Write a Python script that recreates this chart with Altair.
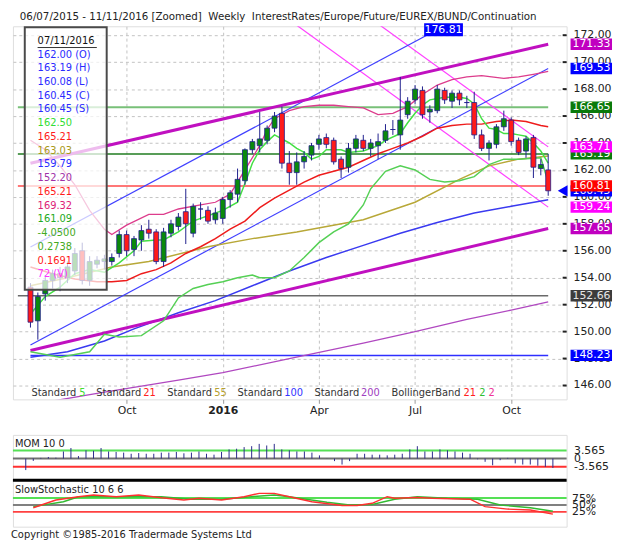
import altair as alt
import pandas as pd

# ---------------- data ----------------
FIRST_WEEK = pd.Timestamp("2015-07-06")

opens = [153.3, 150.8, 152.8, 153.8, 154.3, 154.0, 154.5, 156.0, 153.8, 155.0,
         155.2, 155.2, 155.8, 157.2, 156.1, 156.8, 157.6, 157.4, 155.2, 157.3,
         157.8, 158.9, 157.3, 159.1, 159.0, 158.3, 158.4, 159.8, 160.2, 161.2,
         163.5, 163.8, 164.2, 165.1, 166.2, 162.5, 161.8, 162.6, 163.1, 163.9,
         164.4, 164.2, 162.8, 162.2, 163.6, 164.2, 163.6, 163.8, 164.2, 165.0,
         164.6, 166.1, 167.2, 167.9, 166.3, 166.4, 167.9, 167.1, 167.7, 167.0,
         167.0, 164.6, 163.6, 163.9, 165.2, 165.7, 164.2, 163.4, 164.4, 162.1,
         162.00]
highs = [153.6, 152.9, 154.2, 154.6, 154.8, 155.2, 156.2, 156.6, 155.6, 155.6,
         155.7, 155.8, 157.5, 157.5, 157.1, 157.9, 158.3, 157.6, 157.7, 158.3,
         158.8, 160.6, 159.5, 159.6, 159.3, 159.2, 160.0, 160.5, 162.1, 163.6,
         164.3, 166.3, 165.3, 166.3, 166.7, 163.4, 163.3, 163.4, 164.0, 164.6,
         164.7, 164.4, 163.0, 164.0, 164.6, 164.6, 164.3, 164.7, 165.4, 165.7,
         168.9, 167.4, 168.3, 168.2, 166.8, 168.3, 168.1, 167.9, 167.9, 167.5,
         167.8, 165.0, 164.2, 165.4, 166.4, 165.9, 164.4, 164.5, 164.6, 162.8,
         163.19]
lows = [150.3, 149.4, 152.3, 153.2, 153.0, 153.6, 154.2, 153.5, 153.4, 154.7,
        154.6, 154.9, 155.5, 155.6, 155.6, 156.0, 156.9, 155.0, 154.8, 157.0,
        157.5, 156.5, 157.0, 158.3, 158.0, 158.0, 158.0, 159.2, 159.6, 160.9,
        163.2, 163.3, 163.9, 164.8, 162.1, 160.9, 160.9, 162.1, 162.7, 163.5,
        163.6, 162.4, 161.4, 161.8, 163.3, 163.4, 163.0, 162.8, 164.0, 164.6,
        163.5, 165.8, 166.9, 165.8, 165.5, 166.2, 166.9, 166.6, 166.8, 166.6,
        164.3, 163.4, 162.7, 163.6, 164.9, 163.8, 163.1, 162.9, 161.4, 161.6,
        160.08]
closes = [150.7, 152.6, 153.8, 154.3, 154.0, 154.8, 155.8, 153.8, 155.2, 155.3,
          155.4, 155.5, 157.2, 156.0, 156.9, 157.5, 157.3, 155.2, 157.4, 158.0,
          158.5, 158.0, 159.3, 159.1, 158.2, 158.8, 159.8, 160.3, 161.3, 163.5,
          164.1, 164.3, 165.1, 166.0, 162.5, 161.8, 162.6, 163.0, 163.8, 164.3,
          163.9, 162.6, 162.1, 163.6, 164.3, 163.6, 164.0, 164.1, 164.9, 165.0,
          165.7, 167.1, 168.0, 166.1, 166.5, 168.0, 167.2, 167.7, 167.2, 167.0,
          164.6, 163.6, 164.0, 165.2, 165.8, 164.1, 163.3, 164.3, 162.2, 162.4,
          160.45]

ma5_wk = [0, 2, 4, 6, 8, 10, 12, 14, 15, 17, 18, 20, 21, 22, 23, 24, 26, 28, 29, 30,
          31, 32, 33, 34, 35, 36, 37, 38, 39, 40, 42, 43, 45, 47, 48, 50, 51, 52, 53, 54,
          56, 58, 59, 60, 61, 62, 63, 64, 65, 66, 67, 68, 69, 70]
ma5 = [151.3, 152.6, 153.3, 154.3, 154.6, 154.4, 155.1, 156.0, 156.7, 156.8,
       156.8, 157.4, 157.8, 158.2, 158.4, 158.6, 159.0, 159.6, 161.0, 162.5,
       163.5, 164.1, 164.6, 164.3, 164.0, 163.6, 163.3, 162.8, 163.0, 163.5,
       163.5, 163.3, 163.4, 163.8, 164.2, 164.7, 165.5, 166.2, 166.8, 167.2,
       167.4, 167.4, 167.3, 166.9, 165.8, 165.1, 165.0, 164.7, 164.7, 164.6,
       164.5, 164.0, 163.4, 162.5]

ma21_wk = [0, 3, 6, 9, 11, 13, 15, 17, 19, 21, 23, 25, 27, 29, 31, 33, 35, 37, 39, 41,
           43, 45, 47, 49, 51, 53, 55, 57, 59, 61, 63, 65, 67, 69, 70]
ma21 = [154.8, 154.3, 153.9, 153.7, 153.7, 153.8, 154.3, 154.6, 155.1, 155.8,
        156.3, 156.9, 157.6, 158.2, 159.2, 159.9, 160.5, 161.1, 161.6, 161.9,
        162.2, 162.7, 163.2, 163.6, 164.0, 164.5, 165.1, 165.3, 165.4, 165.4,
        165.6, 165.7, 165.6, 165.3, 165.21]

ma55_wk = [0, 5, 11, 16, 24, 30, 36, 45, 52, 58, 62, 66, 70]
ma55 = [153.4, 154.0, 154.8, 155.2, 156.3, 156.9, 157.4, 158.3, 159.6, 161.3, 162.3, 162.8, 163.03]

ma100_wk = [0, 5, 10, 14, 20, 25, 30, 35, 40, 45, 50, 55, 60, 65, 70]
ma100 = [148.1, 148.5, 149.3, 150.2, 151.4, 152.3, 153.4, 154.5, 155.5, 156.4, 157.3, 158.1, 158.8, 159.3, 159.79]

ma200_wk = [0, 3, 10, 20, 26, 35, 45, 52, 59, 65, 70]
ma200 = [144.5, 144.85, 145.5, 146.4, 146.95, 148.0, 149.15, 150.0, 150.9, 151.6, 152.2]

bbu_wk = [0, 2, 4, 6, 8, 10, 11, 13, 16, 18, 20, 23, 25, 27, 29, 31, 32, 33, 35, 37,
          39, 41, 43, 45, 47, 49, 51, 53, 55, 57, 59, 61, 64, 66, 68, 70]
bbu = [164.2, 163.5, 162.3, 160.9, 159.0, 157.6, 157.2, 157.9, 158.7, 158.7,
       159.1, 159.4, 159.6, 160.2, 162.0, 163.8, 165.0, 165.8, 166.4, 166.7,
       166.8, 166.8, 166.7, 166.6, 166.1, 166.2, 166.7, 167.6, 168.3, 168.7,
       168.9, 169.0, 168.8, 168.9, 169.1, 169.32]

bbl_wk = [0, 4, 8, 10, 12, 15, 18, 20, 22, 24, 26, 28, 30, 31, 33, 35, 37, 39, 41, 43,
          45, 46, 48, 50, 52, 54, 56, 58, 60, 62, 64, 66, 69, 70]
bbl = [148.5, 148.1, 148.5, 149.8, 149.6, 149.7, 150.8, 152.5, 153.2, 153.5,
       153.7, 154.0, 154.2, 154.0, 154.0, 154.5, 155.5, 156.6, 157.4, 158.0,
       159.4, 160.6, 161.9, 162.3, 162.0, 161.3, 161.1, 161.2, 161.5, 162.4,
       162.8, 162.8, 162.9, 161.09]

mom = [-5.0, -1.0, 0.3, 0.7, 0.4, 3.1, 4.6, 1.1, 3.6, 3.4,
       4.6, 3.1, 2.9, 2.6, 2.1, 2.4, 2.1, 2.1, 2.6, 2.6,
       2.9, 2.3, 2.6, 3.1, 2.1, 1.7, 2.9, 4.0, 4.3, 5.0,
       5.4, 6.4, 5.7, 6.4, 4.0, 3.6, 3.1, 3.1, 2.6, 1.4,
       0.05, -1.1, -2.6, -1.1, 2.1, 2.1, 1.7, 1.7, 1.4, 1.7,
       2.1, 4.0, 5.4, 3.1, 3.1, 4.0, 3.6, 3.1, 2.6, 2.1,
       -0.3, -1.4, -2.9, -0.7, 0.3, -2.1, -2.6, -2.6, -3.1, -3.6,
       -4.05]

stoch_k_wk = [1, 4, 7, 9, 12, 15, 18, 21, 23, 26, 29, 31, 33, 35, 38, 42, 44, 46, 48, 49,
              52, 54, 59, 61, 64, 67, 70]
stoch_k = [40, 68, 80, 86, 80, 86, 76, 68, 74, 68, 80, 92, 92, 80, 62, 48, 48, 56, 80, 74,
           77, 74, 71, 44, 35, 32, 16.91]
stoch_d_wk = [1, 5, 7, 12, 18, 22, 26, 30, 33, 35, 40, 43, 46, 49, 52, 56, 60, 63, 67, 70]
stoch_d = [44, 62, 80, 80, 80, 71, 71, 80, 86, 80, 60, 50, 52, 71, 80, 74, 71, 50, 40, 27.38]

# trend lines: (start week, start value, end week, end value)
trend_magenta = [(0, 162.5, 70, 171.33), (0, 148.6, 70, 157.65)]
trend_blue = [(0, 149.0, 70, 169.53), (0, 156.28, 70, 176.81)]
trend_pink = [(34, 173.53, 70, 159.24), (46, 173.24, 70, 163.71)]

level_values = [166.65, 163.19, 160.81, 152.66, 148.23]
level_colors = ["#78c078", "#217d21", "#ff4a4a", "#6a6a6a", "#2f2fff"]
level_widths = [2.0, 1.5, 1.5, 1.5, 1.5]
level_from_first_week = [False, False, False, False, True]

price_ticks = list(range(146, 173, 2))

tag_values_under = [163.19, 160.45]
tag_fill_under = ["#0a7a0a", "#0000ff"]
tag_values = [171.33, 169.53, 166.65, 163.71, 160.81, 159.24, 157.65, 152.66, 148.23]
tag_fill = ["#c000c0", "#0000ff", "#0a7a0a", "#ff00ff", "#ff0000", "#ff00ff", "#c000c0", "#3c3c3c", "#0000ff"]
tag_text_color = ["white"] * 7 + ["#e6e6e6", "white"]

info_text = ["07/11/2016", "162.00 (O)", "163.19 (H)", "160.08 (L)", "160.45 (C)", "160.45 (S)",
             "162.50", "165.21", "163.03", "159.79", "152.20", "165.21", "169.32", "161.09",
             "-4.0500", "0.2738", "0.1691", "72 (V)"]
info_color = ["#111111", "#2b2bff", "#2b2bff", "#2b2bff", "#2b2bff", "#2b2bff",
              "#33dd33", "#ff1a1a", "#a89a1a", "#2b2bff", "#a030a8", "#ff1a1a", "#dd2277", "#22aa22",
              "#44aa22", "#44aa22", "#ff1a1a", "#ff33ff"]

legend_text = ["Standard", "5", "Standard", "21", "Standard", "55", "Standard", "100",
               "Standard", "200", "BollingerBand", "21", "2", "2"]
legend_color = ["#333333", "#44dd33", "#333333", "#ff2020", "#333333", "#b5a030", "#333333", "#3333ff",
                "#333333", "#a040c0", "#333333", "#ff2020", "#30c030", "#ee3399"]
legend_px = [14, 63.4, 80.9, 129.4, 154, 202.6, 226.6, 274.8, 305.9, 354, 385.5, 459.8, 475.9, 485.5]

TITLE = "06/07/2015 - 11/11/2016 [Zoomed]\u00a0 Weekly\u00a0 InterestRates/Europe/Future/EUREX/BUND/Continuation"
COPYRIGHT = "Copyright \u00a91985-2016 Tradermade Systems Ltd"

# ---------------- layout ----------------
W = 561
H_MAIN = 378
H_MOM = 46
H_STO = 47
PX_PER_DAY = 7.63 / 7.0
D0 = pd.Timestamp("2015-06-24 02:00")
D1 = D0 + pd.Timedelta(days=W / PX_PER_DAY)
YTOP, YBOT = 172.66, 144.97
FONT = "DejaVu Sans"


def ms(ts):
    return int(pd.Timestamp(ts).timestamp() * 1000)


def iso(ts):
    return pd.Timestamp(ts).strftime("%Y-%m-%dT%H:%M:%SZ")


def wk_date(i):
    return iso(FIRST_WEEK + pd.Timedelta(days=7 * i))


def px_date(px):
    return iso(D0 + pd.Timedelta(days=px / PX_PER_DAY))


def py_price(py):
    return YTOP - py * (YTOP - YBOT) / H_MAIN


xsc = alt.Scale(type="utc", domain=[ms(D0), ms(D1)], nice=False)
ysc = alt.Scale(domain=[YBOT, YTOP], nice=False, zero=False)

xaxis = alt.Axis(
    values=[ms("2015-10-05"), ms("2016-01-04"), ms("2016-04-04"), ms("2016-07-04"), ms("2016-10-03")],
    labelExpr="utcFormat(datum.value, '%m') == '01' ? utcFormat(datum.value, '%Y') : utcFormat(datum.value, '%b')",
    labelFontWeight={"condition": {"test": "utcFormat(datum.value, '%m') == '01'", "value": "bold"}, "value": "normal"},
    grid=True, gridColor="#c2c2c2", gridDash=[3, 3], gridWidth=1,
    ticks=True, tickColor="#999999", tickSize=4, domain=False,
    labelFontSize=11, labelColor="#222222", labelPadding=1, title=None,
)
yaxis = alt.Axis(
    orient="right", values=price_ticks, labels=False,
    grid=True, gridColor="#c2c2c2", gridDash=[3, 3], gridWidth=1,
    ticks=False, domain=False, title=None,
)


def X(field="date:T"):
    return alt.X(field, scale=xsc, axis=xaxis, title=None)


def Y(field):
    return alt.Y(field, scale=ysc, axis=yaxis, title=None)


one = pd.DataFrame({"a": [0]})

# level lines
lv = pd.DataFrame({
    "x0": [wk_date(0) if f else iso(D0) for f in level_from_first_week],
    "x1": [wk_date(70)] * len(level_values),
    "level": level_values,
    "col": level_colors,
    "w": level_widths,
})
levels = alt.Chart(lv).mark_rule().encode(
    x=X("x0:T"), x2="x1:T", y=Y("level:Q"),
    color=alt.Color("col:N", scale=None), strokeWidth=alt.StrokeWidth("w:Q", scale=None),
)


def trend_layer(lines, color, width):
    rows = []
    for k, (i0, v0, i1, v1) in enumerate(lines):
        rows.append({"id": k, "date": wk_date(i0), "v": v0})
        rows.append({"id": k, "date": wk_date(i1), "v": v1})
    return alt.Chart(pd.DataFrame(rows)).mark_line(color=color, strokeWidth=width, clip=True).encode(
        x=X(), y=Y("v:Q"), detail="id:N")


def line_layer(idx, vals, color, width):
    df = pd.DataFrame({"date": [wk_date(i) for i in idx], "v": vals})
    return alt.Chart(df).mark_line(color=color, strokeWidth=width, clip=True).encode(x=X(), y=Y("v:Q"))


n = len(opens)
cdf = pd.DataFrame({"date": [wk_date(i) for i in range(n)], "open": opens, "high": highs,
                    "low": lows, "close": closes})
wicks = alt.Chart(cdf).mark_rule(color="#1e1e8c", strokeWidth=1).encode(x=X(), y=Y("low:Q"), y2="high:Q")
bodies = alt.Chart(cdf).mark_bar(size=5, stroke="#1e1e8c", strokeWidth=0.8).encode(
    x=X(), y=Y("open:Q"), y2="close:Q",
    fill=alt.condition("datum.close >= datum.open", alt.value("#0b8a0b"), alt.value("#ff1a1a")),
)

# info box
box = alt.Chart(one).mark_rect(fill="white", fillOpacity=0.72, stroke="#4a4a4a", strokeWidth=2).encode(
    x=alt.value(12), x2=alt.value(95), y=alt.value(1), y2=alt.value(267))
info_df = pd.DataFrame({"t": info_text, "col": info_color,
                        "y": [py_price(14.7 + 13.92 * k) for k in range(len(info_text))]})
info = alt.Chart(info_df).mark_text(align="left", baseline="middle", fontSize=10).encode(
    x=alt.value(25), y=Y("y:Q"), text="t:N", color=alt.Color("col:N", scale=None))
underline = alt.Chart(one).mark_rule(color="#333333", strokeWidth=1).encode(
    x=alt.value(25), x2=alt.value(85), y=alt.value(21.5))

# bottom legend
leg_df = pd.DataFrame({"t": legend_text, "col": legend_color,
                       "date": [px_date(p) for p in legend_px],
                       "y": [py_price(H_MAIN - 6.4)] * len(legend_text)})
legend = alt.Chart(leg_df).mark_text(align="left", baseline="middle", fontSize=10).encode(
    x=X(), y=Y("y:Q"), text="t:N", color=alt.Color("col:N", scale=None))

# right price scale: inner ticks and labels (drawn below the value tags)
tick_df = pd.DataFrame({"v": price_ticks, "t": [f"{v:.2f}" for v in price_ticks]})
inner_ticks = alt.Chart(tick_df).mark_rule(color="#222222", strokeWidth=2).encode(
    x=alt.value(W - 4), x2=alt.value(W), y=Y("v:Q"))
tick_labels = alt.Chart(tick_df).mark_text(align="left", baseline="middle", fontSize=11, color="#222222").encode(
    x=alt.value(W + 7), y=Y("v:Q"), text="t:N")

arrow = alt.Chart(pd.DataFrame({"v": [closes[-1]]})).mark_point(
    shape="triangle-left", filled=True, size=130, color="#0000ff", opacity=1).encode(
    x=alt.value(W - 4), y=Y("v:Q"))


def tag_layers(values, fills, tcolors):
    df = pd.DataFrame({"v": values, "t": [f"{v:.2f}" for v in values], "fill": fills, "tc": tcolors})
    df["lo"] = df["v"] - 0.42
    df["hi"] = df["v"] + 0.42
    rect = alt.Chart(df).mark_rect().encode(
        x=alt.value(W + 4), x2=alt.value(W + 46), y=Y("lo:Q"), y2="hi:Q",
        fill=alt.Fill("fill:N", scale=None))
    txt = alt.Chart(df).mark_text(align="left", baseline="middle", fontSize=11).encode(
        x=alt.value(W + 6), y=Y("v:Q"), text="t:N", color=alt.Color("tc:N", scale=None))
    return [rect, txt]


# label where the upper steep blue line leaves the top
i0, v0, i1, v1 = trend_blue[1]
ic = i0 + (YTOP - v0) / (v1 - v0) * (i1 - i0)
cross = FIRST_WEEK + pd.Timedelta(days=7 * ic)
half = pd.Timedelta(days=20 / PX_PER_DAY)
top_df = pd.DataFrame({"x0": [iso(cross - half)], "x1": [iso(cross + half)], "xc": [iso(cross)],
                       "lo": [py_price(10)], "hi": [py_price(-3)], "yc": [py_price(3.5)],
                       "t": [f"{v1:.2f}"]})
top_rect = alt.Chart(top_df).mark_rect(fill="#0000ff").encode(x=X("x0:T"), x2="x1:T", y=Y("lo:Q"), y2="hi:Q")
top_txt = alt.Chart(top_df).mark_text(align="center", baseline="middle", fontSize=11, color="white").encode(
    x=X("xc:T"), y=Y("yc:Q"), text="t:N")

title = alt.Chart(one).mark_text(align="left", baseline="alphabetic", fontSize=10.4, color="#222222").encode(
    x=alt.value(7), y=alt.value(-6), text=alt.value(TITLE))

main = alt.layer(
    levels,
    trend_layer(trend_pink, "#ff40ff", 1.2),
    trend_layer(trend_blue, "#4040ff", 1.2),
    line_layer(ma200_wk, ma200, "#b048c0", 1.3),
    line_layer(ma100_wk, ma100, "#3a3af0", 1.5),
    trend_layer(trend_magenta, "#c010c0", 3),
    line_layer(ma55_wk, ma55, "#b8a838", 1.5),
    line_layer(bbl_wk, bbl, "#55d055", 1.5),
    line_layer(bbu_wk, bbu, "#dd3c8c", 1.3),
    line_layer(ma21_wk, ma21, "#ee1c1c", 1.5),
    line_layer(ma5_wk, ma5, "#44e044", 1.5),
    wicks, bodies,
    box, info, underline, legend, inner_ticks, tick_labels, arrow,
    *tag_layers(tag_values_under, tag_fill_under, ["white", "white"]),
    *tag_layers(tag_values, tag_fill, tag_text_color),
    top_rect, top_txt, title,
).properties(width=W, height=H_MAIN)

# ---------------- momentum panel ----------------
mom_sc = alt.Scale(domain=[-9.45, 10.31], nice=False, zero=False)
mom_axis = alt.Axis(orient="right", values=[-3.565, 0, 3.565],
                    labelExpr="datum.value == 0 ? '0' : (datum.value < 0 ? '-' + format(-datum.value, '.3f') : format(datum.value, '.3f'))",
                    grid=False, ticks=False, domain=False, labelPadding=7, labelFontSize=11,
                    labelColor="#222222", labelOverlap=False, title=None)
mom_lv = pd.DataFrame({"level": [3.565, 0.0, -3.565], "col": ["#55e055", "#707070", "#ff3030"]})
mom_lines = alt.Chart(mom_lv).mark_rule(strokeWidth=2).encode(
    y=alt.Y("level:Q", scale=mom_sc, axis=mom_axis, title=None), color=alt.Color("col:N", scale=None))
mom_df = pd.DataFrame({"date": [wk_date(i) for i in range(len(mom))], "mom": mom, "zero": 0.0})
mom_bars = alt.Chart(mom_df).mark_rule(color="#2a2a8a", strokeWidth=1).encode(
    x=alt.X("date:T", scale=xsc, axis=None),
    y=alt.Y("mom:Q", scale=mom_sc, axis=mom_axis, title=None), y2="zero:Q")
mom_label = alt.Chart(one).mark_text(align="left", baseline="middle", fontSize=10, color="#222222").encode(
    x=alt.value(2), y=alt.value(9), text=alt.value("MOM 10 0"))
mom_chart = alt.layer(mom_lines, mom_bars, mom_label).properties(width=W, height=H_MOM)

# ---------------- slow stochastic panel ----------------
sto_sc = alt.Scale(domain=[-28.6, 139.3], nice=False, zero=False)
sto_axis = alt.Axis(orient="right", values=[25, 50, 75], labelExpr="datum.value + '%'",
                    grid=False, ticks=False, domain=False, labelPadding=5, labelFontSize=11,
                    labelColor="#222222", labelOverlap=False, title=None)
sto_lv = pd.DataFrame({"level": [75, 50, 25], "col": ["#55e055", "#808080", "#ff4040"]})
sto_lines = alt.Chart(sto_lv).mark_rule(strokeWidth=2).encode(
    y=alt.Y("level:Q", scale=sto_sc, axis=sto_axis, title=None), color=alt.Color("col:N", scale=None))
d_df = pd.DataFrame({"date": [wk_date(i) for i in stoch_d_wk], "v": stoch_d})
k_df = pd.DataFrame({"date": [wk_date(i) for i in stoch_k_wk], "v": stoch_k})
d_line = alt.Chart(d_df).mark_line(color="#33bb33", strokeWidth=1.5).encode(
    x=alt.X("date:T", scale=xsc, axis=None), y=alt.Y("v:Q", scale=sto_sc, axis=sto_axis, title=None))
k_line = alt.Chart(k_df).mark_line(color="#ff3030", strokeWidth=1.5).encode(
    x=alt.X("date:T", scale=xsc, axis=None), y=alt.Y("v:Q", scale=sto_sc, axis=sto_axis, title=None))
sto_label = alt.Chart(one).mark_text(align="left", baseline="middle", fontSize=10, color="#222222").encode(
    x=alt.value(2), y=alt.value(10), text=alt.value("SlowStochastic 10 6 6"))
separator = alt.Chart(one).mark_rule(color="#000000", strokeWidth=3).encode(
    x=alt.value(0), x2=alt.value(W), y=alt.value(0))
copyright = alt.Chart(one).mark_text(align="left", baseline="middle", fontSize=10, color="#222222").encode(
    x=alt.value(-2), y=alt.value(H_STO + 8), text=alt.value(COPYRIGHT))
sto_chart = alt.layer(sto_lines, d_line, k_line, sto_label, separator, copyright).properties(width=W, height=H_STO)

chart = alt.vconcat(
    main,
    alt.vconcat(mom_chart, sto_chart, spacing=0, bounds="flush"),
    spacing=36, bounds="flush",
).properties(
    padding={"left": 2, "top": 0, "right": 0, "bottom": 0}
).configure_view(
    stroke="#1a1a1a", strokeWidth=1
).configure(font=FONT, background="white")

chart.save("out.html", embed_options={"renderer": "svg", "actions": False})
